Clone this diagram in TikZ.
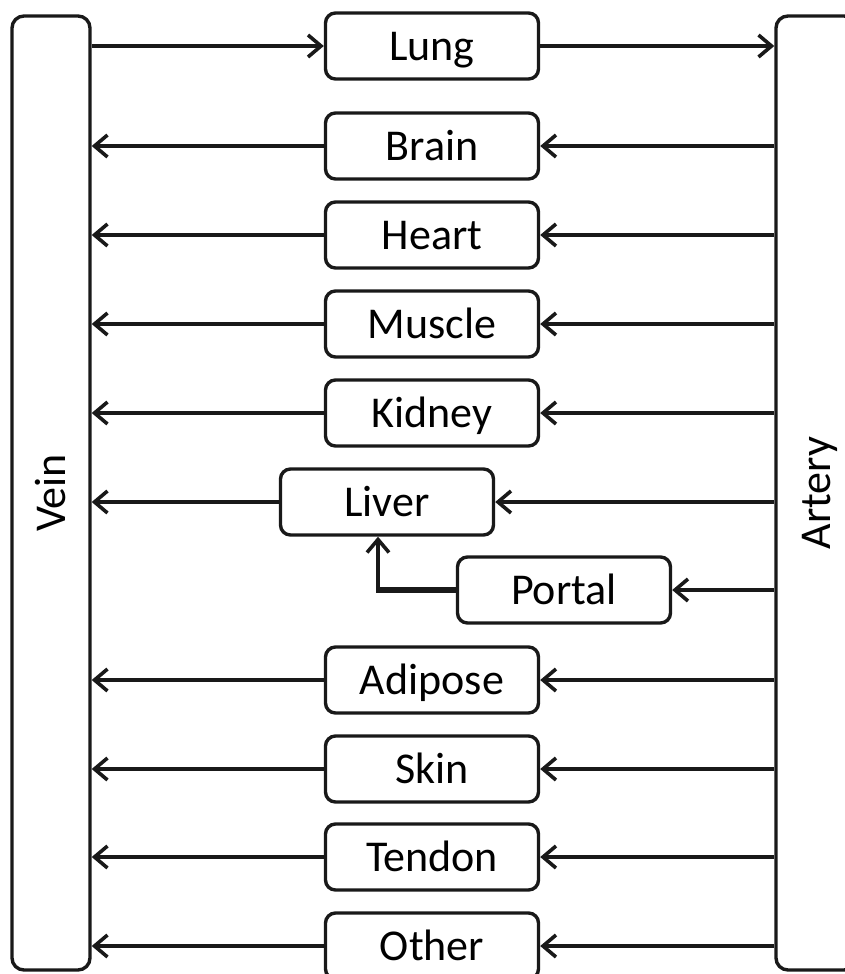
\documentclass[tikz,border=0pt]{standalone}
\usepackage{fontspec}
\setmainfont{Carlito}
\usetikzlibrary{arrows.meta,positioning}

\begin{document}
\begin{tikzpicture}[x=1pt,y=-1pt]
\tikzset{
  bodytext/.style={font=\fontsize{44}{50}\selectfont,text height=28pt,text depth=0pt,inner sep=0pt},
  organ/.style={bodytext,draw=black!90,line width=3.4pt,rounded corners=10pt,minimum width=213pt,minimum height=66pt},
  vessel/.style={draw=black!90,line width=3.4pt,rounded corners=12pt,minimum width=78pt,minimum height=954pt,inner sep=0pt},
  flow/.style={draw=black!90,line width=3.4pt,-{Straight Barb[length=13pt,width=22pt,line width=3.6pt]}}
}
\useasboundingbox (0,0) rectangle (845,974);
\clip (0,0) rectangle (845,974);
\node[vessel,label={[bodytext,rotate=90]center:Vein}] (n_vein) at (51,493) {};
\node[vessel,minimum width=80pt,label={[bodytext,rotate=90]center:Artery}] (n_artery) at (816,493) {};
\node[organ] (n_Lung) at (432,46) {Lung};
\draw[flow] (n_vein.east |- n_Lung.west) -- (n_Lung.west);
\draw[flow] (n_Lung.east) -- (n_artery.west |- n_Lung.east);
\foreach \name/\y in {Brain/146,Heart/235,Muscle/324,Kidney/413,Adipose/680,Skin/769,Tendon/857,Other/946} {
  \node[organ] (n_\name) at (432,\y) {\name};
  \draw[flow] (n_artery.west |- n_\name.east) -- (n_\name.east);
  \draw[flow] (n_\name.west) -- (n_vein.east |- n_\name.west);
}
\node[organ] (n_Liver) at (387,502) {Liver};
\node[organ] (n_Portal) at (564,590) {Portal};
\draw[flow] (n_artery.west |- n_Liver.east) -- (n_Liver.east);
\draw[flow] (n_Liver.west) -- (n_vein.east |- n_Liver.west);
\draw[flow] (n_artery.west |- n_Portal.east) -- (n_Portal.east);
% portal vein into the liver
\coordinate (c_bend) at (378,590);
\draw[flow] (c_bend) -- (c_bend |- n_Liver.south);
\draw[draw=black!90,line width=6.5pt] (n_Portal.west) -- ([xshift=-1.7pt]c_bend);
\end{tikzpicture}
\end{document}
